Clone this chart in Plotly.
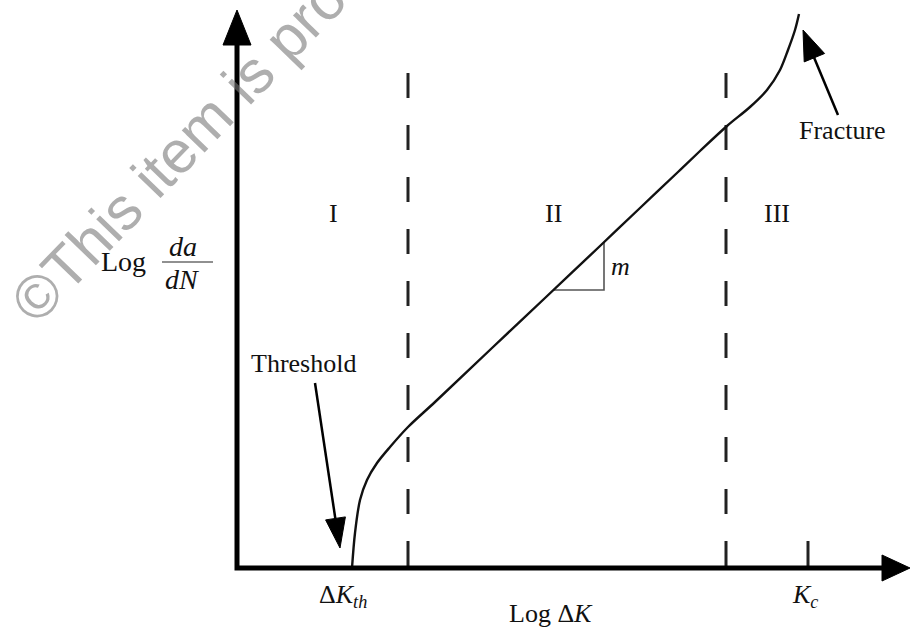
import plotly.graph_objects as go

# ---- data (drawing units; origin at the axes corner) ----
# x = Log ΔK, y = Log da/dN
curve_log_dK = [115, 118, 123, 130, 140, 153, 171, 198, 255, 308, 363, 403, 441, 463, 490, 513, 530, 543, 551, 558, 562]
curve_log_dadN = [0, 35, 68, 88, 105, 121, 141, 166, 220, 270, 322, 360, 396, 417, 442, 461, 478, 498, 518, 538, 554]

region_bounds = [171, 489]          # Log ΔK at the dashed region boundaries
region_top = 495                     # top of the dashed lines
region_names = ["I", "II", "III"]
region_label_x = [96, 316, 540]
region_label_y = 355

dK_threshold = 115
K_critical = 571

slope_triangle_x = [316, 367, 367]
slope_triangle_y = [278, 278, 326]

X_RANGE = [-237, 673]
Y_RANGE = [-64, 568]

FONT = "Liberation Serif, Times New Roman, serif"

fig = go.Figure()

# watermark
fig.add_annotation(x=-59, y=418, text="©This item is pro", showarrow=False,
                   textangle=-46, font=dict(family="Liberation Sans, Arial, sans-serif",
                                            size=60, color="rgba(120,120,120,0.6)"),
                   xanchor="center", yanchor="middle")

# dashed region boundaries
for xb in region_bounds:
    fig.add_trace(go.Scatter(x=[xb, xb], y=[region_top, 0], mode="lines",
                             line=dict(color="#222", width=3, dash="25px,27px"),
                             hoverinfo="skip", showlegend=False))

# K_c tick
fig.add_trace(go.Scatter(x=[K_critical, K_critical], y=[0, 27], mode="lines",
                         line=dict(color="#222", width=3), hoverinfo="skip", showlegend=False))

# slope triangle
fig.add_trace(go.Scatter(x=slope_triangle_x, y=slope_triangle_y, mode="lines",
                         line=dict(color="#555", width=1.6), hoverinfo="skip", showlegend=False))

# crack growth curve
fig.add_trace(go.Scatter(x=curve_log_dK, y=curve_log_dadN, mode="lines",
                         line=dict(color="#111", width=2.4, shape="spline", smoothing=0.9),
                         hoverinfo="skip", showlegend=False))

# axes with arrowheads
fig.add_trace(go.Scatter(x=[0, 0, 648], y=[525, 0, 0], mode="lines",
                         line=dict(color="black", width=5), hoverinfo="skip", showlegend=False))
fig.add_trace(go.Scatter(x=[-14, 14, 0, -14], y=[523, 523, 558, 523], mode="lines",
                         fill="toself", fillcolor="black", line=dict(color="black", width=1),
                         hoverinfo="skip", showlegend=False))
fig.add_trace(go.Scatter(x=[645, 645, 673, 645], y=[13, -13, 0, 13], mode="lines",
                         fill="toself", fillcolor="black", line=dict(color="black", width=1),
                         hoverinfo="skip", showlegend=False))

# Threshold arrow
fig.add_trace(go.Scatter(x=[78, 99], y=[185, 45], mode="lines",
                         line=dict(color="black", width=2.5), hoverinfo="skip", showlegend=False))
fig.add_trace(go.Scatter(x=[88.6, 108.4, 103, 88.6], y=[48.1, 51.1, 20, 48.1], mode="lines",
                         fill="toself", fillcolor="black", line=dict(color="black", width=1),
                         hoverinfo="skip", showlegend=False))

# Fracture arrow
fig.add_trace(go.Scatter(x=[601, 576], y=[453, 513], mode="lines",
                         line=dict(color="black", width=2.5), hoverinfo="skip", showlegend=False))
fig.add_trace(go.Scatter(x=[567.2, 587.6, 566, 567.2], y=[506.1, 514.5, 538, 506.1], mode="lines",
                         fill="toself", fillcolor="black", line=dict(color="black", width=1),
                         hoverinfo="skip", showlegend=False))

# fraction bar for da/dN
fig.add_trace(go.Scatter(x=[-75, -24], y=[306, 306], mode="lines",
                         line=dict(color="#222", width=1.2), hoverinfo="skip", showlegend=False))


def label(x, y, text, size=26, xanchor="center"):
    fig.add_annotation(x=x, y=y, text=text, showarrow=False, xanchor=xanchor, yanchor="middle",
                       font=dict(family=FONT, size=size, color="#111"))


for name, lx in zip(region_names, region_label_x):
    label(lx, region_label_y, name)

label(-114, 307, "Log", size=28)
label(-54, 322, "<i>da</i>", size=28)
label(-55, 289, "<i>dN</i>", size=28)
label(383, 302, "<i>m</i>")
label(605, 438, "Fracture")
label(66, 205, "Threshold")
label(80, -28, "Δ<i>K</i><sub><i>th</i></sub>", xanchor="left")
label(314, -45, "Log Δ<i>K</i>")
label(553, -28, "<i>K</i><sub><i>c</i></sub>", xanchor="left")

fig.update_layout(
    width=910, height=632,
    margin=dict(l=0, r=0, t=0, b=0),
    paper_bgcolor="white", plot_bgcolor="white",
    xaxis=dict(range=X_RANGE, visible=False, fixedrange=True),
    yaxis=dict(range=Y_RANGE, visible=False, fixedrange=True),
    showlegend=False,
)

fig.write_html("out.html", config={"displayModeBar": False},
               post_script="document.body.style.margin='0';document.body.style.overflow='hidden';")
